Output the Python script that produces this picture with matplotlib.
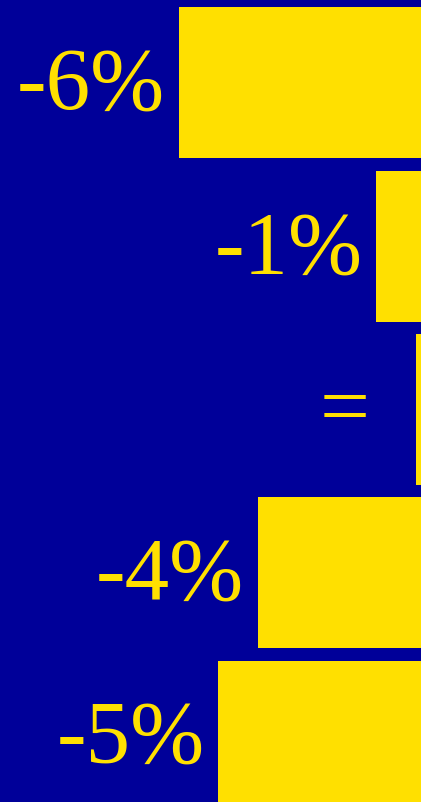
import matplotlib.pyplot as plt
import numpy as np

# change per row, in percent
values = [-6, -1, 0, -4, -5]
labels = ['-6%', '-1%', '=', '-4%', '-5%']

navy = '#000099'
yellow = '#FFE000'

fig = plt.figure(figsize=(4.21, 8.02), dpi=100)
fig.patch.set_facecolor(navy)
ax = fig.add_axes([0, 0, 1, 1])
ax.set_facecolor(navy)

y = np.arange(len(values))
# bars start at the value and run off the right edge
ax.barh(y, [1 - v for v in values], left=values, height=0.925,
        color=yellow, edgecolor='none')

for yi, v, lab in zip(y, values, labels):
    gap = -46 if v == 0 else -14
    ax.annotate(lab, xy=(v, yi), xytext=(gap, -26), textcoords='offset pixels',
                ha='right', va='baseline', color=yellow, fontsize=64,
                family='Liberation Serif')

ax.set_xlim(-10.53, 0.127)
ax.set_ylim(4.404, -0.508)
ax.axis('off')

fig.savefig('out.png', dpi=100, facecolor=navy)
